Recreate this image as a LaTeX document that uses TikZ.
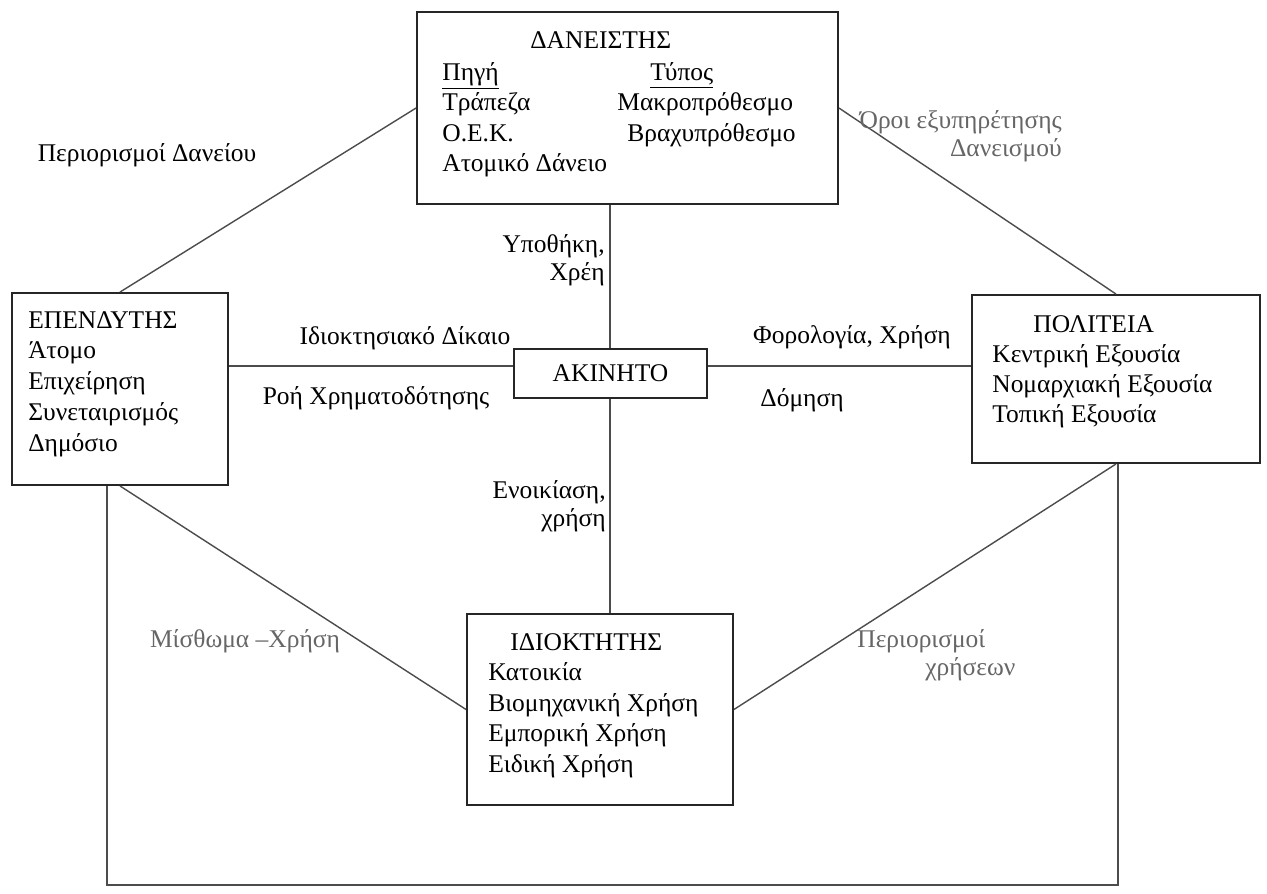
\documentclass[tikz,border=0pt]{standalone}
\usepackage{fontspec}
\setmainfont{Liberation Serif}
\usetikzlibrary{positioning, calc}

\begin{document}
\begin{tikzpicture}[x=0.02cm, y=-0.02cm,
      box/.style={draw=black!85, line width=1.1pt, inner sep=0pt},
      link/.style={draw=black!70, line width=0.8pt},
      item/.style={anchor=base west, inner sep=0pt,
      font=\fontsize{14.5pt}{17.4pt}\selectfont},
      lbl/.style={inner sep=0pt, font=\fontsize{14.5pt}{16pt}\selectfont},
      greylbl/.style={lbl, text=black!60} ]
    \useasboundingbox (0,0) rectangle (1267,893);

    % Boxes
    \node[box, minimum width=8.42cm, minimum height=3.84cm] (dan) at (627.5,108) {};
    \node[box, minimum width=4.32cm, minimum height=3.84cm] (ep) at (120,389) {};
    \node[box, minimum width=3.86cm, minimum height=0.98cm,
    font=\fontsize{14.5pt}{17.4pt}\selectfont] (akin) at (610.5,373.5) {ΑΚΙΝΗΤΟ};
    \node[box, minimum width=5.76cm, minimum height=3.36cm] (pol) at (1116,379) {};
    \node[box, minimum width=5.32cm, minimum height=3.82cm] (idi) at (600,709.5) {};

    % Lender: source and type
    \node[item] (danT) at (530,48) {ΔΑΝΕΙΣΤΗΣ};
    \foreach \t [count=\i from 0] in {\underline{Πηγή}, Τράπεζα, Ο.Ε.Κ., Ατομικό Δάνειο}
      \node[item] (danL\i) at (442,80+30.5*\i) {\t};
    \node[item] (danR0) at (650,80) {\underline{Τύπος}};
    \node[item] (danR1) at (617,110.5) {Μακροπρόθεσμο};
    \node[item] (danR2) at (627,141) {Βραχυπρόθεσμο};

    % Investor
    \node[item] (epT) at (28,328) {ΕΠΕΝΔΥΤΗΣ};
    \foreach \t [count=\i] in {Άτομο, Επιχείρηση, Συνεταιρισμός, Δημόσιο}
      \node[item] (ep\i) at (28,328+30.75*\i) {\t};

    % State
    \node[item] (polT) at (1033,332) {ΠΟΛΙΤΕΙΑ};
    \foreach \t [count=\i] in {Κεντρική Εξουσία, Νομαρχιακή Εξουσία, Τοπική Εξουσία}
      \node[item] (pol\i) at (992,332+30.3*\i) {\t};

    % Owner
    \node[item] (idiT) at (510,650) {ΙΔΙΟΚΤΗΤΗΣ};
    \foreach \t [count=\i] in {Κατοικία, Βιομηχανική Χρήση, Εμπορική Χρήση, Ειδική Χρήση}
      \node[item] (idi\i) at (488,650+30.5*\i) {\t};

    % Connectors
    \coordinate (axis) at (610,366);
    \coordinate (floor) at (1118,885);
    \draw[link] (dan.south -| axis) -- (akin.north -| axis);
    \draw[link] (akin.south -| axis) -- (idi.north -| axis);
    \draw[link] (ep.east |- axis) -- (akin.west |- axis);
    \draw[link] (akin.east |- axis) -- (pol.west |- axis);
    \draw[link] (ep.north) -- (dan.west);
    \draw[link] (dan.east) -- (pol.north);
    \draw[link] (ep.south) -- (idi.west);
    \draw[link] (idi.east) -- (pol.south);
    \draw[link] ([xshift=-0.26cm]ep.south) |- (floor) -- (floor |- pol.south);

    % Connector labels
    \node[lbl] (perDan) at (147,155) {Περιορισμοί Δανείου};
    \node[greylbl, align=right, anchor=east] (oroi) at (1062,136)
    {Όροι εξυπηρέτησης\\Δανεισμού};
    \node[lbl, align=right, anchor=east] (ypoth) at (605,260) {Υποθήκη,\\Χρέη};
    \node[lbl] (idiokt) at (405,338) {Ιδιοκτησιακό Δίκαιο};
    \node[lbl] (roi) at (376,398) {Ροή Χρηματοδότησης};
    \node[lbl] (forol) at (852,337) {Φορολογία, Χρήση};
    \node[lbl] (domisi) at (802,400) {Δόμηση};
    \node[lbl, align=right, anchor=east] (enoik) at (606,506) {Ενοικίαση,\\χρήση};
    \node[greylbl] (misth) at (245,641) {Μίσθωμα –Χρήση};
    \node[greylbl, align=left, anchor=west] (perXr) at (857,655)
    {Περιορισμοί\\\hspace*{1.36cm}χρήσεων};

\end{tikzpicture}
\end{document}
